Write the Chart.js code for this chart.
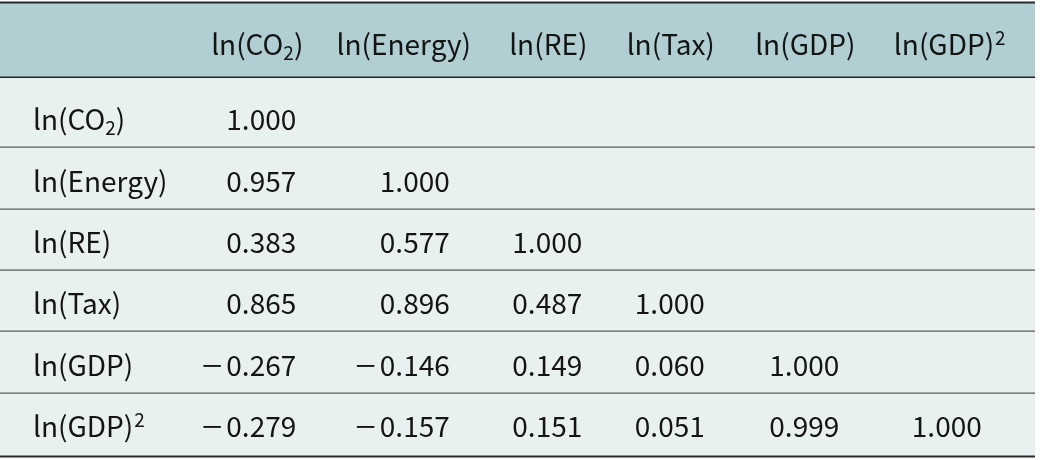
<!DOCTYPE html>
<html>
<head>
<meta charset="utf-8">
<script src="https://cdn.jsdelivr.net/npm/chart.js@4.4.1/dist/chart.umd.min.js"></script>
<style>
html,body{margin:0;padding:0;background:#ffffff;}
#wrap{width:1040px;height:460px;position:relative;}
</style>
</head>
<body>
<div id="wrap"><canvas id="c"></canvas></div>
<script>
// ---- data ----
// "_x" = subscript character, "^x" = superscript character
const variables = ['ln(CO_2)', 'ln(Energy)', 'ln(RE)', 'ln(Tax)', 'ln(GDP)', 'ln(GDP)^2'];
const corrCO2    = [1.000];
const corrEnergy = [0.957, 1.000];
const corrRE     = [0.383, 0.577, 1.000];
const corrTax    = [0.865, 0.896, 0.487, 1.000];
const corrGDP    = [-0.267, -0.146, 0.149, 0.060, 1.000];
const corrGDP2   = [-0.279, -0.157, 0.151, 0.051, 0.999, 1.000];
const corrRows   = [corrCO2, corrEnergy, corrRE, corrTax, corrGDP, corrGDP2];

// ---- style / layout ----
const FONT = '"Noto Sans CJK SC", "Noto Sans", sans-serif';
const FS = 28;
const SMALL = 19;
const headerNudge = [0, 8, 14, -2, -6, 0];     // horizontal fine-tuning of header text
const valueRight  = [39, 54, 48, 32, 28, 32];  // right edge of numbers relative to column centre
const headerBg = '#b1cfd2', bodyBg = '#e8f0f0', textColor = '#141414';

const points = [];
corrRows.forEach((row, i) => row.forEach((v, j) => points.push({x: variables[j], y: variables[i], v})));

function parseRich(label) {
  const parts = [];
  let i = 0;
  while (i < label.length) {
    const ch = label[i];
    if ((ch === '_' || ch === '^') && i + 1 < label.length) {
      parts.push({t: label[i + 1], k: ch === '_' ? 'sub' : 'sup'});
      i += 2;
    } else {
      let s = '';
      while (i < label.length && label[i] !== '_' && label[i] !== '^') { s += label[i]; i++; }
      parts.push({t: s, k: 'n'});
    }
  }
  return parts;
}

function drawRich(ctx, label, x, y, align) {
  const parts = parseRich(label);
  const fontFor = k => (k === 'n' ? FS : SMALL) + 'px ' + FONT;
  let w = 0;
  parts.forEach(p => {
    ctx.font = fontFor(p.k);
    p.w = ctx.measureText(p.t).width + (p.k === 'sup' ? 1 : 0);
    w += p.w;
  });
  let cx = align === 'center' ? x - w / 2 : (align === 'right' ? x - w : x);
  ctx.textAlign = 'left';
  ctx.textBaseline = 'alphabetic';
  parts.forEach(p => {
    ctx.font = fontFor(p.k);
    let dy = 0, dx = 0;
    if (p.k === 'sub') { dy = 5; }
    if (p.k === 'sup') { dy = -10.5; dx = 1; }
    ctx.fillText(p.t, cx + dx, y + dy);
    cx += p.w;
  });
}

function drawValue(ctx, v, right, y) {
  const s = Math.abs(v).toFixed(3);
  ctx.font = FS + 'px ' + FONT;
  ctx.textBaseline = 'alphabetic';
  ctx.textAlign = 'right';
  ctx.fillText(s, right, y);
  if (v < 0) {
    const w = ctx.measureText(s).width;
    ctx.save();
    ctx.translate(right - w - 4, y);
    ctx.scale(1.3, 1);
    ctx.textAlign = 'right';
    ctx.fillText('\u2212', 0, 0);
    ctx.restore();
  }
}

const tablePlugin = {
  id: 'tablePlugin',
  beforeDatasetsDraw(chart) {
    const ctx = chart.ctx;
    const ys = chart.scales.y;
    const step = (ys.bottom - ys.top) / variables.length;
    const tableRight = 1035;
    const headTop = 3, headBottom = ys.top - 9;
    ctx.save();
    ctx.fillStyle = headerBg;
    ctx.fillRect(0, headTop, tableRight, headBottom - headTop);
    ctx.fillStyle = bodyBg;
    ctx.fillRect(0, headBottom, tableRight, ys.bottom + 3 - headBottom);
    ctx.fillStyle = '#2a2a2a';
    ctx.fillRect(0, 1.5, tableRight, 2);
    ctx.fillStyle = '#222';
    ctx.fillRect(0, headBottom - 0.5, tableRight, 1.5);
    ctx.fillStyle = '#555';
    for (let r = 1; r < variables.length; r++) {
      const y = Math.round(ys.top + r * step);
      ctx.fillRect(0, y - 0.5, tableRight, 1.2);
    }
    ctx.fillStyle = '#2a2a2a';
    ctx.fillRect(0, ys.bottom + 1.5, tableRight, 2);
    ctx.restore();
  },
  afterDatasetsDraw(chart) {
    const ctx = chart.ctx;
    const xs = chart.scales.x, ys = chart.scales.y;
    const meta = chart.getDatasetMeta(0);
    ctx.save();
    ctx.fillStyle = textColor;
    variables.forEach((lab, j) => {
      drawRich(ctx, lab, xs.getPixelForValue(j) + headerNudge[j], 55, 'center');
    });
    variables.forEach((lab, i) => {
      drawRich(ctx, lab, 33, ys.getPixelForValue(i) + 13.7, 'left');
    });
    meta.data.forEach((el, k) => {
      const p = points[k];
      const j = variables.indexOf(p.x);
      drawValue(ctx, p.v, el.x + valueRight[j], el.y + 13.7);
    });
    ctx.restore();
  }
};

new Chart(document.getElementById('c'), {
  type: 'scatter',
  data: {
    datasets: [{
      data: points,
      pointRadius: 0,
      pointHoverRadius: 0,
      showLine: false
    }]
  },
  options: {
    responsive: true,
    maintainAspectRatio: false,
    animation: false,
    events: [],
    layout: {padding: {left: 188, right: 21, top: 86, bottom: 6}},
    plugins: {legend: {display: false}, tooltip: {enabled: false}},
    scales: {
      x: {type: 'category', labels: variables, offset: true, display: false},
      y: {type: 'category', labels: variables, offset: true, display: false}
    }
  },
  plugins: [tablePlugin]
});
</script>
</body>
</html>
